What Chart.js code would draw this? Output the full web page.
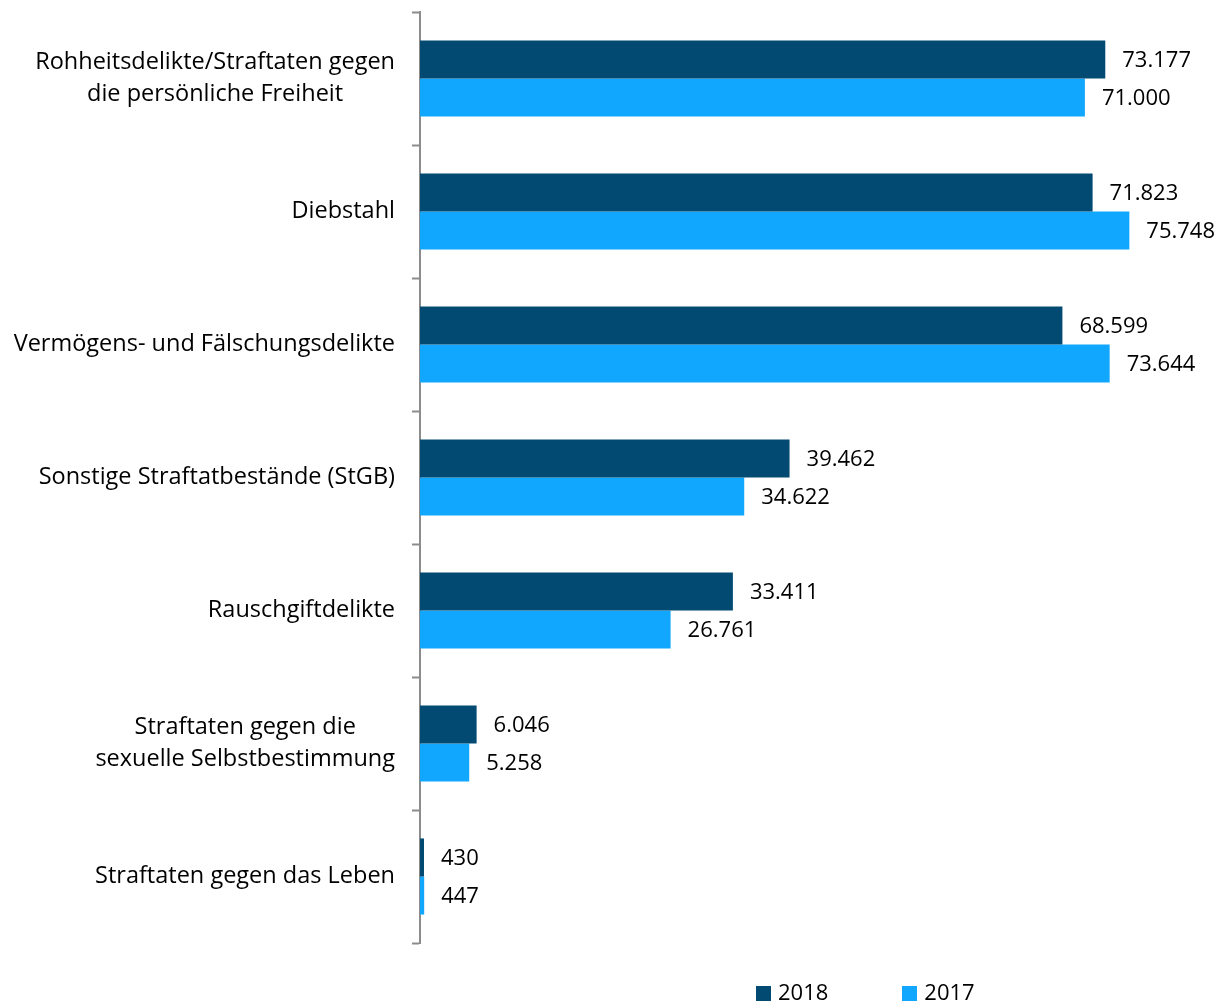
<!DOCTYPE html>
<html>
<head>
<meta charset="utf-8">
<script src="https://cdn.jsdelivr.net/npm/chart.js@4"></script>
<style>
  html, body { margin: 0; padding: 0; background: #fff; }
  #wrap { position: relative; width: 1225px; height: 1001px; }
  #legend { position: absolute; left: 756px; top: 976px; font: 22px "Open Sans", sans-serif; color: #000; white-space: nowrap; }
  #legend span.box { display: inline-block; width: 15px; height: 15px; vertical-align: -1px; margin-right: 7px; }
  #legend span.item { display: inline-block; }
</style>
</head>
<body>
<div id="wrap">
  <canvas id="chartCrime" width="1225" height="1001"></canvas>
  <div id="legend"></div>
</div>
<script>
/* Daten */
const categories = [
    ['Rohheitsdelikte/Straftaten gegen', 'die persönliche Freiheit'],
    'Diebstahl',
    'Vermögens- und Fälschungsdelikte',
    'Sonstige Straftatbestände (StGB)',
    'Rauschgiftdelikte',
    ['Straftaten gegen die', 'sexuelle Selbstbestimmung'],
    'Straftaten gegen das Leben'
];
const values2018 = [73177, 71823, 68599, 39462, 33411, 6046, 430];
const values2017 = [71000, 75748, 73644, 34622, 26761, 5258, 447];
const seriesNames = ['2018', '2017'];
const seriesColors = ['#034A73', '#12A7FE'];

const FONT = '"Open Sans", sans-serif';

formatDe = (n) => String(n).replace(/\B(?=(\d{3})+(?!\d))/g, '.');

/* Werte an den Balken */
const valueLabels = {
    id: 'valueLabels',
    afterDatasetsDraw(chart) {
        const ctx = chart.ctx;
        ctx.save();
        ctx.font = '22px ' + FONT;
        ctx.fillStyle = '#000';
        ctx.textAlign = 'left';
        ctx.textBaseline = 'middle';
        chart.data.datasets.forEach((ds, i) => {
            chart.getDatasetMeta(i).data.forEach((bar, j) => {
                ctx.fillText(formatDe(ds.data[j]), bar.x + 17, bar.y + 1);
            });
        });
        ctx.restore();
    }
};

/* Kategorien: Block rechtsbuendig, Zeilen zentriert */
const categoryLabels = {
    id: 'categoryLabels',
    afterDraw(chart) {
        const ctx = chart.ctx;
        const y = chart.scales.y;
        const right = y.right - 25;
        const lineH = 32;
        ctx.save();
        ctx.font = '23.5px ' + FONT;
        ctx.fillStyle = '#000';
        ctx.textAlign = 'center';
        ctx.textBaseline = 'middle';
        categories.forEach((lab, i) => {
            const lines = Array.isArray(lab) ? lab : [lab];
            const w = Math.max(...lines.map(l => ctx.measureText(l).width));
            const cx = right - w / 2;
            const cy = y.getPixelForValue(i);
            lines.forEach((l, k) => {
                ctx.fillText(l, cx, cy + (k - (lines.length - 1) / 2) * lineH);
            });
        });
        ctx.restore();
    }
};

const cc = document.getElementById('chartCrime');
const chartCrime = new Chart(cc, {
    type: 'bar',
    data: {
        labels: categories,
        datasets: [{
            label: seriesNames[0],
            data: values2018,
            backgroundColor: seriesColors[0],
        }, {
            label: seriesNames[1],
            data: values2017,
            backgroundColor: seriesColors[1],
        }],
    },
    options: {
        indexAxis: 'y',
        responsive: false,
        animation: false,
        categoryPercentage: 0.572,
        barPercentage: 1,
        layout: {
            padding: { top: 12, bottom: 58, right: 9, left: 0 },
        },
        scales: {
            x: {
                display: false,
                min: 0,
                max: 85000,
            },
            y: {
                afterFit: (scale) => { scale.width = 420; },
                grid: {
                    drawOnChartArea: false,
                    drawTicks: true,
                    tickLength: 8,
                    tickWidth: 2,
                    color: '#8c8c8c',
                    offset: true,
                },
                border: {
                    display: true,
                    color: '#8c8c8c',
                    width: 2,
                },
                ticks: {
                    display: false,
                },
            },
        },
        plugins: {
            legend: { display: false },
            tooltip: { enabled: false },
        },
    },
    plugins: [valueLabels, categoryLabels],
});

/* Legende */
const legendEl = document.getElementById('legend');
legendEl.innerHTML = seriesNames.map((n, i) =>
    '<span class="item" style="margin-right:' + (i === 0 ? 74 : 0) + 'px"><span class="box" style="background:' +
    seriesColors[i] + '"></span>' + n + '</span>'
).join('');
</script>
</body>
</html>
